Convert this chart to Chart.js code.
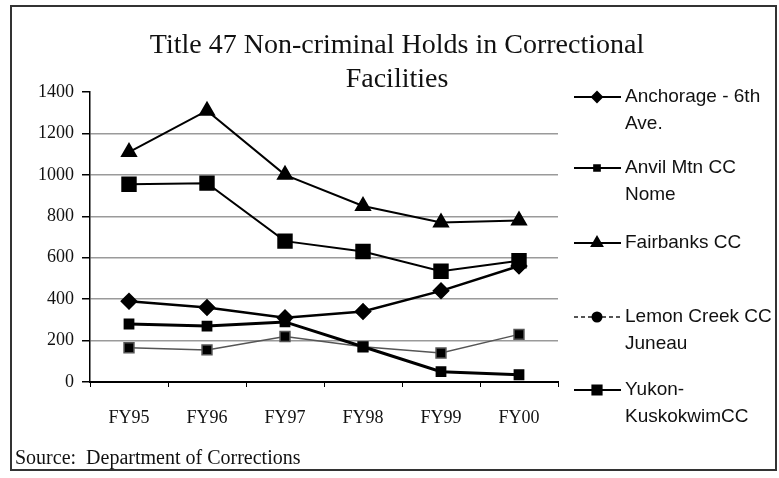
<!DOCTYPE html>
<html>
<head>
<meta charset="utf-8">
<script src="https://cdn.jsdelivr.net/npm/chart.js@4/dist/chart.umd.min.js"></script>
<style>
  body { margin: 0; background: #fff; }
  #wrap { position: relative; width: 779px; height: 478px; }
  #frame { position: absolute; left: 10px; top: 5px; width: 763px; height: 462px; border: 2px solid #333; }
  #source { position: absolute; left: 15px; top: 446px; font: 20px "Liberation Serif", serif; color: #111; }
  canvas { position: absolute; left: 0; top: 0; }
</style>
</head>
<body>
<div id="wrap">
  <div id="frame"></div>
  <canvas id="myChart" width="779" height="478"></canvas>
  <div id="source">Source:&nbsp; Department of Corrections</div>
</div>
<script>
const categories = ['FY95', 'FY96', 'FY97', 'FY98', 'FY99', 'FY00'];
const anchorage = [390, 360, 310, 340, 440, 560];
const anvilMtn = [280, 270, 290, 170, 50, 35];
const fairbanks = [1110, 1310, 1000, 850, 770, 780];
const lemonCreek = [165, 155, 220, 170, 140, 230];
const yukonKusk = [955, 960, 680, 630, 535, 585];
const titleLines = ['Title 47 Non-criminal Holds in Correctional', 'Facilities'];
const legendLines = [
  ['Anchorage - 6th', 'Ave.'],
  ['Anvil Mtn CC', 'Nome'],
  ['Fairbanks CC'],
  ['Lemon Creek CC', 'Juneau'],
  ['Yukon-', 'KuskokwimCC']
];

// title + legend drawn by hand, the built-in ones can't wrap like the original
const extrasPlugin = {
  id: 'extras',
  afterDraw(chart) {
    const ctx = chart.ctx;
    ctx.save();
    ctx.fillStyle = '#111';
    ctx.textAlign = 'center';
    ctx.textBaseline = 'alphabetic';
    ctx.font = '28px "Liberation Serif", serif';
    ctx.fillText(titleLines[0], 397, 53);
    ctx.fillText(titleLines[1], 397, 87);

    const rowY = [97, 168, 243, 317, 390];
    const markR = [5, 4, 6, 4.5, 6.5];
    ctx.textAlign = 'left';
    ctx.textBaseline = 'middle';
    ctx.font = '19px "Liberation Sans", sans-serif';
    chart.data.datasets.forEach(function(ds, i) {
      let y = rowY[i];
      ctx.strokeStyle = ds.borderColor;
      ctx.lineWidth = 2;
      ctx.setLineDash(i === 3 ? [4, 3] : []);
      ctx.beginPath();
      ctx.moveTo(574, y);
      ctx.lineTo(621, y);
      ctx.stroke();
      ctx.setLineDash([]);
      ctx.fillStyle = '#000';
      ctx.strokeStyle = '#000';
      Chart.helpers.drawPoint(ctx, {pointStyle: i === 3 ? 'circle' : ds.pointStyle, radius: markR[i], rotation: 0, borderWidth: 1}, 597, y);
      ctx.fillStyle = '#111';
      legendLines[i].forEach(function(t, k) {
        ctx.fillText(t, 625, y + k * 27);
      });
    });
    ctx.restore();
  }
};

const ctx = document.getElementById('myChart').getContext('2d');
const lineChart = new Chart(ctx, {
  type: 'line',
  data: {
    labels: categories,
    datasets: [{
      label: 'Anchorage - 6th Ave.',
      data: anchorage,
      borderColor: '#000',
      backgroundColor: '#000',
      borderWidth: 2.5,
      pointStyle: 'rectRot',
      pointRadius: 7
    }, {
      label: 'Anvil Mtn CC Nome',
      data: anvilMtn,
      borderColor: '#000',
      backgroundColor: '#000',
      borderWidth: 3,
      pointStyle: 'rect',
      pointRadius: 5.5
    }, {
      label: 'Fairbanks CC',
      data: fairbanks,
      borderColor: '#000',
      backgroundColor: '#000',
      borderWidth: 2,
      pointStyle: 'triangle',
      pointRadius: 8
    }, {
      label: 'Lemon Creek CC Juneau',
      data: lemonCreek,
      borderColor: '#555',
      backgroundColor: '#000',
      borderWidth: 1.5,
      pointStyle: 'rect',
      pointRadius: 7
    }, {
      label: 'Yukon-Kuskokwim CC',
      data: yukonKusk,
      borderColor: '#000',
      backgroundColor: '#000',
      borderWidth: 2,
      pointStyle: 'rect',
      pointRadius: 9.5
    }]
  },
  options: {
    responsive: false,
    animation: false,
    layout: { padding: { left: 10, right: 221, top: 92, bottom: 36 } },
    plugins: {
      legend: { display: false },
      title: { display: false },
      tooltip: { enabled: false }
    },
    elements: { line: { tension: 0 } },
    scales: {
      x: {
        offset: true,
        afterFit(scale) { scale.height = 60; },
        grid: { drawOnChartArea: false, tickLength: 5, tickColor: '#000', offset: true },
        border: { color: '#000', width: 2 },
        ticks: { color: '#111', padding: 20, font: { family: '"Liberation Serif", serif', size: 18 } }
      },
      y: {
        min: 0,
        max: 1400,
        afterFit(scale) { scale.width = 80; },
        grid: {
          color: function(c) { return c.tick && c.tick.value === 1400 ? 'rgba(0,0,0,0)' : '#9a9a9a'; },
          lineWidth: 1.5,
          tickLength: 8,
          tickColor: '#000'
        },
        border: { color: '#000', width: 1.5 },
        ticks: {
          stepSize: 200,
          color: '#111',
          padding: 8,
          font: { family: '"Liberation Serif", serif', size: 18 },
          callback: function(v) { return String(v); }
        }
      }
    }
  },
  plugins: [extrasPlugin]
});
</script>
</body>
</html>
